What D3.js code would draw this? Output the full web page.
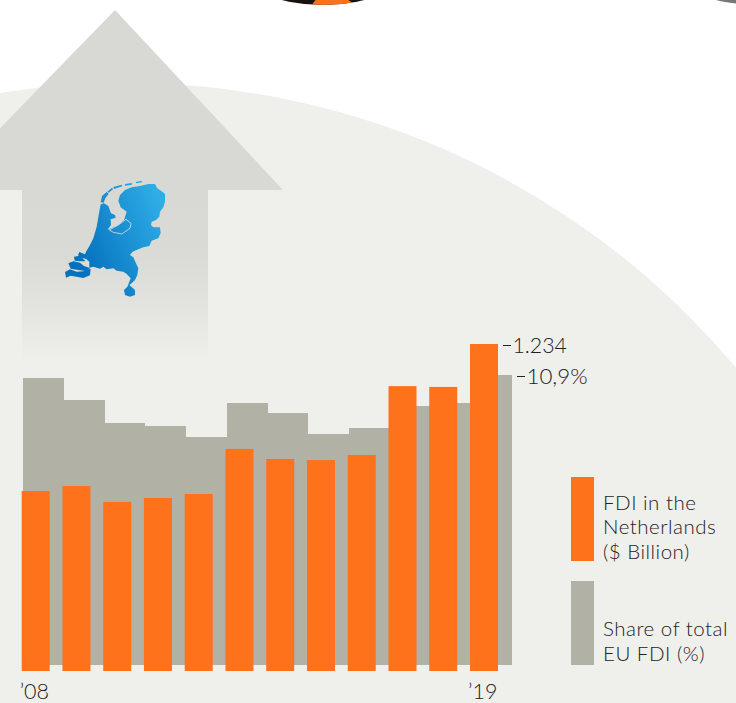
<!DOCTYPE html>
<html>
<head>
<meta charset="utf-8">
<script src="https://cdn.jsdelivr.net/npm/d3@7"></script>
<style>
  html, body { margin: 0; padding: 0; background: #fff; }
  svg { display: block; }
  text { font-family: Lato, "Open Sans", sans-serif; font-weight: 300; fill: #222; }
</style>
</head>
<body>
<div id="chart"></div>
<script>
const years = ["2008","2009","2010","2011","2012","2013","2014","2015","2016","2017","2018","2019"];
const fdiBillion = [679, 698, 638, 653, 668, 838, 800, 796, 815, 1075, 1072, 1234];
const euSharePct = [10.79, 9.96, 9.10, 8.98, 8.57, 9.85, 9.47, 8.68, 8.91, 9.73, 9.85, 10.9];
const endLabels = { fdi: "1.234", share: "10,9%" };
const axisLabels = [["2008", "\u201908"], ["2019", "\u201919"]];
const legendFdi = ["FDI in the", "Netherlands", "($ Billion)"];
const legendShare = ["Share of total", "EU FDI (%)"];

// Outline of the Netherlands in a local drawing grid
const mainland = [[205,92],[210,75],[225,60],[245,52],[270,48],[295,42],[315,42],[322,55],[338,66],[345,72],[345,95],[340,112],[330,125],[328,140],[318,150],[305,155],[303,165],[310,172],[330,172],[332,190],[325,205],[305,212],[298,228],[280,232],[265,238],[248,245],[240,255],[250,262],[258,280],[265,295],[262,315],[255,330],[245,340],[238,345],[255,360],[255,375],[240,380],[225,375],[222,360],[232,350],[238,335],[242,325],[230,312],[220,305],[200,302],[190,295],[170,298],[160,290],[150,296],[130,290],[118,293],[118,275],[102,262],[108,245],[120,225],[130,205],[140,170],[147,130],[152,103],[162,100],[175,108],[183,130],[195,135],[197,143],[182,148],[183,165],[172,180],[190,172],[205,165],[222,150],[230,125],[212,112]];
const flevoland = [[178,180],[205,165],[228,148],[243,160],[240,175],[215,192],[190,187]];
const islands = [
  [[152,97],[156,78],[170,66],[176,71],[166,85],[161,98]],
  [[172,65],[185,54],[190,57],[176,68]],
  [[190,51],[215,44],[217,49],[192,57]],
  [[225,42],[245,39],[246,44],[225,47]],
  [[258,36],[275,32],[276,37],[258,40]],
  [[88,246],[105,253],[114,268],[96,264],[84,256]],
  [[72,260],[90,257],[107,274],[90,274],[74,272]],
  [[55,280],[70,274],[90,278],[102,288],[120,294],[112,304],[85,300],[62,296]],
  [[45,306],[60,298],[80,305],[100,304],[122,296],[120,316],[100,324],[80,320],[62,317],[48,323]]
];

const width = 736, height = 703;
const bg = "#eff0ec", orange = "#ff721c", stone = "#b1b1a5", arrowGrey = "#d8d9d4";

const svg = d3.select("#chart").append("svg").attr("width", width).attr("height", height);
const defs = svg.append("defs");

const shaftFade = defs.append("linearGradient").attr("id", "shaftFade")
  .attr("gradientUnits", "userSpaceOnUse").attr("x1", 0).attr("x2", 0).attr("y1", 190).attr("y2", 360);
shaftFade.selectAll("stop").data([[0, arrowGrey], [0.4, "#dadbd6"], [0.7, "#e3e4df"], [1, bg]]).join("stop")
  .attr("offset", d => d[0]).attr("stop-color", d => d[1]);

const mapFill = defs.append("linearGradient").attr("id", "mapFill")
  .attr("gradientUnits", "userSpaceOnUse").attr("x1", 75).attr("y1", 250).attr("x2", 165).attr("y2", 210);
mapFill.selectAll("stop").data([[0, "#0471bd"], [1, "#2fade6"]]).join("stop")
  .attr("offset", d => d[0]).attr("stop-color", d => d[1]);

defs.append("clipPath").attr("id", "topDisc")
  .append("circle").attr("cx", 323).attr("cy", -170).attr("r", 175);

// Backdrop disc, running off the bottom of the page
svg.append("circle").attr("cx", 126).attr("cy", 879).attr("r", 796).attr("fill", bg);

// Discs cut by the top edge
svg.append("circle").attr("cx", 323).attr("cy", -170).attr("r", 175).attr("fill", "#17120e");
svg.append("path").attr("d", "M317,-2L311,6L358,6L345,-2Z").attr("fill", orange)
  .attr("clip-path", "url(#topDisc)");
svg.append("circle").attr("cx", 755).attr("cy", -170.5).attr("r", 175).attr("fill", "#777");

// Upward arrow
svg.append("path").attr("d", "M115,10L283,190L-60,190Z").attr("fill", arrowGrey);
svg.append("rect").attr("x", 22).attr("y", 190).attr("width", 186).attr("height", 170).attr("fill", "url(#shaftFade)");

// Map of the Netherlands
const mapX = d3.scaleLinear().domain([0, 390]).range([50, 180]);
const mapY = d3.scaleLinear().domain([0, 405]).range([170, 305]);
const outline = d3.line().x(d => mapX(d[0])).y(d => mapY(d[1])).curve(d3.curveLinearClosed);
const map = svg.append("g");
map.selectAll("path.land").data([mainland, ...islands]).join("path").attr("class", "land")
  .attr("d", outline).attr("fill", "url(#mapFill)");
map.append("path").attr("d", outline(flevoland)).attr("fill", "none")
  .attr("stroke", "#dce4e6").attr("stroke-width", 0.8);

// Share of EU FDI: touching columns behind the orange bars
const xShare = d3.scaleBand().domain(years).range([23, 512]);
const yShare = d3.scaleLinear().domain([0, 10.9]).range([665, 375]);
svg.append("g").attr("shape-rendering", "crispEdges").selectAll("rect").data(years).join("rect")
  .attr("x", d => xShare(d)).attr("width", xShare.bandwidth())
  .attr("y", (d, i) => yShare(euSharePct[i]))
  .attr("height", (d, i) => yShare(0) - yShare(euSharePct[i]))
  .attr("fill", stone);

// FDI in the Netherlands
const xFdi = d3.scaleBand().domain(years).range([21.7, 498]).paddingInner(0.313).paddingOuter(0);
const yFdi = d3.scaleLinear().domain([0, 1234]).range([671, 344]);
svg.append("g").selectAll("rect").data(years).join("rect")
  .attr("x", d => xFdi(d)).attr("width", xFdi.bandwidth())
  .attr("y", (d, i) => yFdi(fdiBillion[i]))
  .attr("height", (d, i) => yFdi(0) - yFdi(fdiBillion[i]))
  .attr("fill", orange);

// End-of-series value labels with short leaders
const last = years.length - 1;
const ends = [
  { x: xFdi(years[last]) + xFdi.bandwidth() + 5, y: yFdi(fdiBillion[last]) + 1.5, label: endLabels.fdi, size: 21.3 },
  { x: xShare(years[last]) + xShare.bandwidth() + 5, y: yShare(euSharePct[last]) + 1.5, label: endLabels.share, size: 22.3 }
];
svg.append("g").selectAll("line").data(ends).join("line")
  .attr("x1", d => d.x).attr("x2", d => d.x + 8).attr("y1", d => d.y).attr("y2", d => d.y)
  .attr("stroke", "#222").attr("stroke-width", 1);
svg.append("g").selectAll("text").data(ends).join("text")
  .attr("x", d => d.x + 9.5).attr("y", d => d.y + 7.5).attr("font-size", d => d.size).text(d => d.label);

// Year labels under the first and last bars
svg.append("g").selectAll("text").data(axisLabels).join("text")
  .attr("x", d => xFdi(d[0]) - 2).attr("y", 698.5).attr("font-size", 21.5).text(d => d[1]);

// Legend: swatches plus stacked lines of text for each series
const legend = svg.append("g");
legend.append("rect").attr("x", 571).attr("y", 477).attr("width", 23).attr("height", 84).attr("fill", orange);
legend.append("rect").attr("x", 571).attr("y", 581).attr("width", 23).attr("height", 84).attr("fill", stone);
[[legendFdi, 509.5], [legendShare, 636]].forEach(([lines, firstBaseline]) => {
  legend.append("g").selectAll("text").data(lines).join("text")
    .attr("x", 603).attr("y", (d, i) => firstBaseline + i * 24.8)
    .attr("font-size", 20.5).attr("letter-spacing", 0.5).text(d => d);
});
</script>
</body>
</html>
